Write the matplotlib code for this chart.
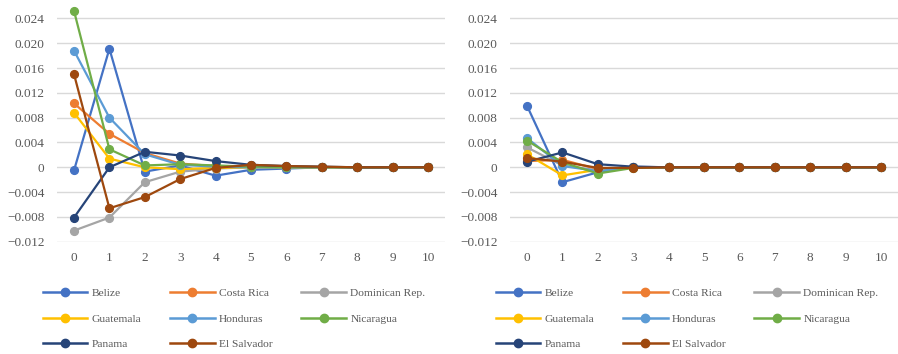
import matplotlib.pyplot as plt
from matplotlib.lines import Line2D

plt.rcParams["font.family"] = ["Liberation Serif", "DejaVu Serif"]

horizons = list(range(11))
countries = ["Belize", "Costa Rica", "Dominican Rep.", "Guatemala",
             "Honduras", "Nicaragua", "Panama", "El Salvador"]
colors = ["#4472C4", "#ED7D31", "#A5A5A5", "#FFC000",
          "#5B9BD5", "#70AD47", "#264478", "#9E480E"]

# left panel responses
left_belize = [-0.0005, 0.0191, -0.0007, 0.0003, -0.00135, -0.0004, -0.0002, 0, 0, 0, 0]
left_costa_rica = [0.0103, 0.0054, 0.0023, 0.0006, 0.0002, 0.0001, 0, 0, 0, 0, 0]
left_dominican = [-0.0102, -0.0081, -0.0024, -0.0007, -0.0002, 0, 0, 0, 0, 0, 0]
left_guatemala = [0.0088, 0.0014, 0.0, -0.0003, -0.0001, 0, 0, 0, 0, 0, 0]
left_honduras = [0.0188, 0.0080, 0.0021, 0.0004, 0.0001, 0, 0, 0, 0, 0, 0]
left_nicaragua = [0.0252, 0.0029, 0.0003, 0.0005, 0.0003, 0.0001, 0, 0, 0, 0, 0]
left_panama = [-0.0081, 0.0, 0.0025, 0.0019, 0.0010, 0.0004, 0.0002, 0.0001, 0, 0, 0]
left_el_salvador = [0.0150, -0.0066, -0.0048, -0.0019, -0.0001, 0.0004, 0.0002, 0.0001, 0, 0, 0]

# right panel responses
right_belize = [0.0099, -0.0024, -0.0008, 0.0001, 0, 0, 0, 0, 0, 0, 0]
right_costa_rica = [0.0010, 0.0012, -0.0003, 0, 0, 0, 0, 0, 0, 0, 0]
right_dominican = [0.0032, 0.0003, -0.0005, 0, 0, 0, 0, 0, 0, 0, 0]
right_guatemala = [0.0021, -0.0013, -0.0004, 0, 0, 0, 0, 0, 0, 0, 0]
right_honduras = [0.0047, 0.0002, -0.0006, 0, 0, 0, 0, 0, 0, 0, 0]
right_nicaragua = [0.0043, 0.0008, -0.0010, -0.0001, 0, 0, 0, 0, 0, 0, 0]
right_panama = [0.0009, 0.0024, 0.0005, 0.0001, 0, 0, 0, 0, 0, 0, 0]
right_el_salvador = [0.0015, 0.0009, -0.0001, -0.0001, 0, 0, 0, 0, 0, 0, 0]

left_series = [left_belize, left_costa_rica, left_dominican, left_guatemala,
               left_honduras, left_nicaragua, left_panama, left_el_salvador]
right_series = [right_belize, right_costa_rica, right_dominican, right_guatemala,
                right_honduras, right_nicaragua, right_panama, right_el_salvador]

y_ticks = [-0.012, -0.008, -0.004, 0, 0.004, 0.008, 0.012, 0.016, 0.020, 0.024]
y_labels = ["\u22120.012", "\u22120.008", "\u22120.004", "0", "0.004", "0.008",
            "0.012", "0.016", "0.020", "0.024"]

text_color = "#595959"
grid_color = "#D9D9D9"

fig = plt.figure(figsize=(8.98, 3.54), dpi=100)
ax_left = fig.add_axes([0.0635, 0.317, 0.432, 0.675])
ax_right = fig.add_axes([0.568, 0.317, 0.432, 0.675])

# legend reads row by row like the original, matplotlib fills by column
legend_order = [0, 3, 6, 1, 4, 7, 2, 5]

for ax, series, leg_x in [(ax_left, left_series, 0.0475), (ax_right, right_series, 0.552)]:
    for values, color, name in zip(series, colors, countries):
        ax.plot(horizons, values, color=color, lw=1.6, marker="o", ms=5.6,
                label=name, zorder=3)
    ax.set_xlim(-0.48, 10.48)
    ax.set_ylim(-0.012, 0.0265)
    ax.set_xticks(horizons)
    ax.set_yticks(y_ticks)
    ax.set_yticklabels(y_labels)
    for t in y_ticks:
        ax.axhline(t, color=grid_color, lw=1.0, zorder=1)
    for s in ax.spines.values():
        s.set_visible(False)
    ax.tick_params(length=0, labelsize=9.5, colors=text_color, pad=9)
    ax.tick_params(axis="x", pad=7)

    handles = [Line2D([], [], color=colors[i], lw=1.8, marker="o", ms=6) for i in legend_order]
    labels = [countries[i] for i in legend_order]
    fig.legend(handles, labels, loc="upper left", bbox_to_anchor=(leg_x, 0.187),
               ncol=3, frameon=False, fontsize=8.25, labelcolor=text_color,
               handlelength=3.9, handletextpad=0.38, columnspacing=2.5,
               labelspacing=1.37, borderpad=0, borderaxespad=0)

fig.savefig("out.png", dpi=100)
